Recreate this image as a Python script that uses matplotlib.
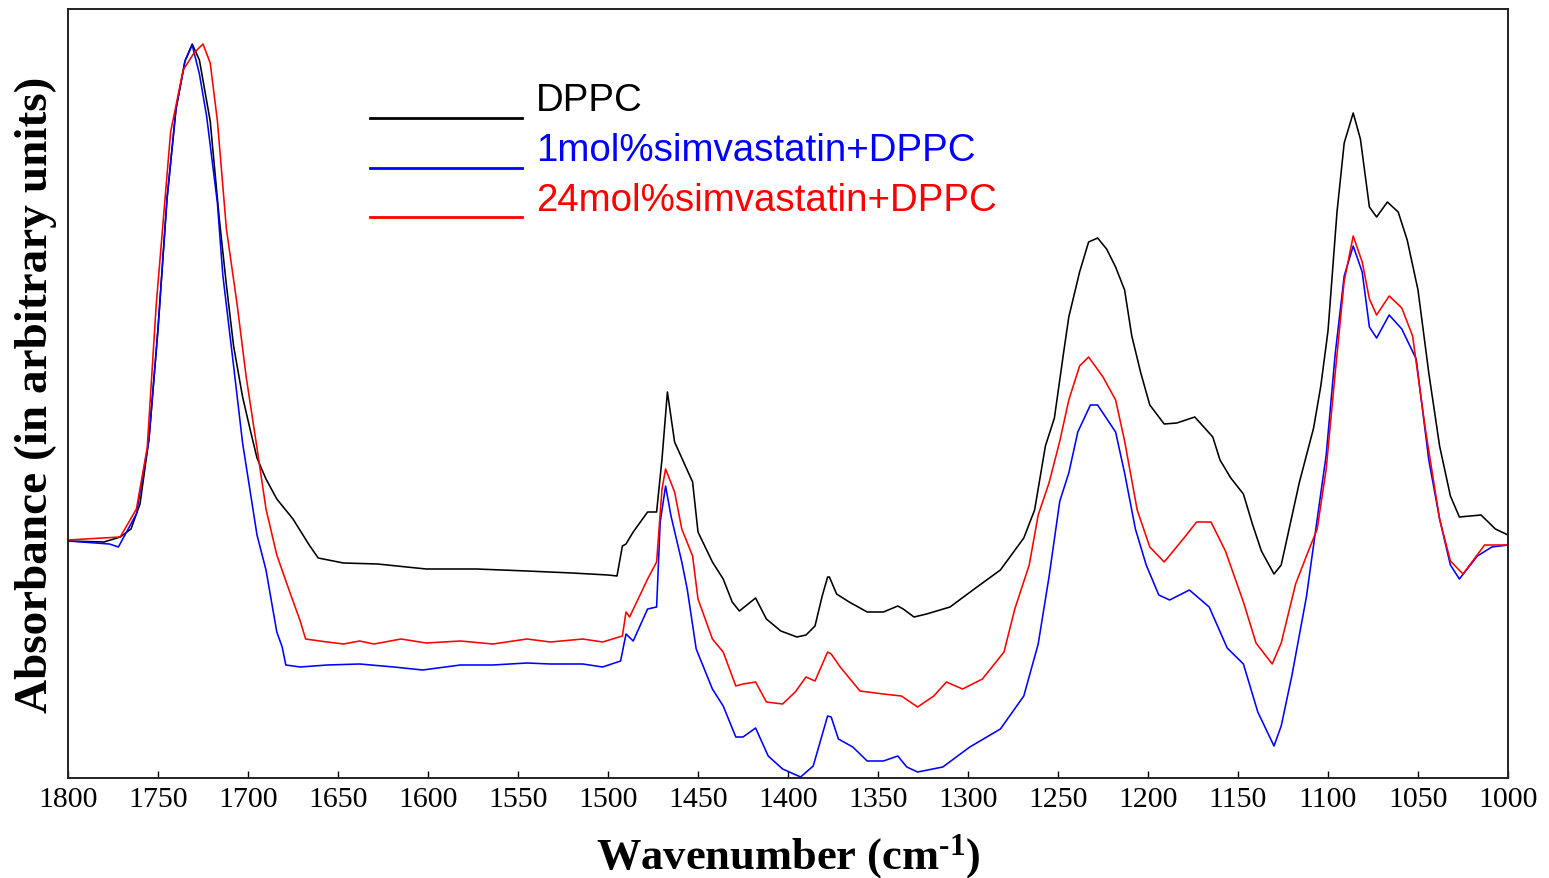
import numpy as np
import matplotlib
matplotlib.use("Agg")
import matplotlib.pyplot as plt
from matplotlib.legend_handler import HandlerLine2D

# FTIR spectra, absorbance in arbitrary units
dppc_wn = [1800, 1780, 1771, 1765, 1760, 1755, 1750, 1745, 1740, 1735, 1731, 1727,
           1721, 1716, 1712, 1708, 1703, 1699, 1695, 1690, 1684, 1675, 1666, 1661,
           1647, 1628, 1601, 1573, 1545, 1520, 1500, 1495,
           1492, 1490, 1486, 1478, 1473, 1470, 1467, 1463, 1457, 1453, 1450, 1442,
           1436, 1431, 1427, 1418, 1412, 1404, 1395, 1390, 1385, 1381, 1378, 1377,
           1373, 1366, 1356, 1347, 1339, 1336, 1330, 1323, 1310, 1295, 1282,
           1269, 1263, 1257, 1252, 1247, 1244, 1238, 1233, 1228, 1223, 1218, 1213,
           1209, 1204, 1199, 1191, 1184, 1174, 1164, 1160, 1154, 1147, 1142, 1137,
           1130, 1126, 1121, 1116, 1108, 1104, 1100, 1095, 1091, 1086, 1082, 1077,
           1073, 1067, 1061, 1056, 1050, 1044, 1038, 1032, 1027, 1015, 1007, 1000]
dppc_abs = [2.37, 2.36, 2.41, 2.49, 2.74, 3.39, 4.49, 5.79, 6.69, 7.17, 7.34, 7.18,
            6.57, 5.60, 4.93, 4.32, 3.81, 3.50, 3.20, 2.99, 2.79, 2.59, 2.33, 2.20,
            2.15, 2.14, 2.09, 2.09, 2.07, 2.05, 2.03, 2.02,
            2.32, 2.34, 2.46, 2.66, 2.66, 3.19, 3.86, 3.36, 3.12, 2.96, 2.46, 2.16,
            1.99, 1.76, 1.67, 1.80, 1.59, 1.47, 1.41, 1.43, 1.52, 1.82, 2.01, 2.01,
            1.84, 1.76, 1.66, 1.66, 1.72, 1.69, 1.61, 1.64, 1.71, 1.91, 2.08,
            2.40, 2.68, 3.32, 3.60, 4.24, 4.61, 5.06, 5.36, 5.40, 5.29, 5.11, 4.88,
            4.42, 4.05, 3.73, 3.54, 3.55, 3.61, 3.41, 3.18, 3.00, 2.84, 2.54, 2.27,
            2.04, 2.13, 2.54, 2.95, 3.50, 3.92, 4.47, 5.66, 6.35, 6.65, 6.39, 5.71,
            5.61, 5.76, 5.66, 5.38, 4.88, 4.05, 3.32, 2.82, 2.61, 2.63, 2.49, 2.43]

sim1_wn = [1800, 1777, 1772, 1769, 1762, 1755, 1750, 1745, 1740, 1735, 1731, 1727,
           1723, 1717, 1714, 1708, 1703, 1695, 1690, 1684, 1681, 1679, 1671, 1656,
           1638, 1619, 1603, 1582, 1564, 1545, 1532, 1514, 1503,
           1493, 1490, 1486, 1478, 1473, 1471, 1468, 1465, 1459, 1456, 1451, 1442,
           1436, 1429, 1425, 1418, 1411, 1403, 1393, 1386, 1378, 1376, 1372, 1364,
           1356, 1347, 1339, 1334, 1328, 1314, 1299, 1282,
           1269, 1261, 1255, 1249, 1244, 1239, 1232, 1228, 1218, 1213, 1207, 1201,
           1194, 1188, 1177, 1166, 1156, 1147, 1139, 1130, 1126, 1120, 1112, 1106,
           1101, 1096, 1091, 1086, 1081, 1077, 1073, 1066, 1059, 1051, 1044, 1038,
           1032, 1027, 1017, 1009, 1000]
sim1_abs = [2.37, 2.34, 2.31, 2.41, 2.64, 3.39, 4.49, 5.79, 6.69, 7.17, 7.33, 7.04,
            6.62, 5.75, 5.03, 4.12, 3.35, 2.43, 2.08, 1.46, 1.31, 1.13, 1.11, 1.13,
            1.14, 1.11, 1.08, 1.13, 1.13, 1.15, 1.14, 1.14, 1.11,
            1.17, 1.44, 1.37, 1.69, 1.71, 2.56, 2.92, 2.62, 2.16, 1.89, 1.29, 0.89,
            0.72, 0.41, 0.41, 0.50, 0.22, 0.09, 0.01, 0.12, 0.62, 0.61, 0.39, 0.31,
            0.17, 0.17, 0.22, 0.11, 0.06, 0.11, 0.31, 0.49,
            0.82, 1.34, 2.01, 2.77, 3.05, 3.46, 3.73, 3.73, 3.46, 3.05, 2.49, 2.13,
            1.83, 1.78, 1.88, 1.71, 1.30, 1.14, 0.66, 0.32, 0.52, 1.03, 1.81, 2.59,
            3.23, 4.24, 5.02, 5.32, 5.06, 4.51, 4.40, 4.63, 4.49, 4.19, 3.18, 2.59,
            2.13, 1.99, 2.22, 2.31, 2.33]

sim24_wn = [1800, 1771, 1762, 1756, 1751, 1743, 1736, 1730, 1725, 1721, 1717, 1712,
            1706, 1701, 1695, 1690, 1684, 1677, 1671, 1668,
            1656, 1647, 1638, 1630, 1615, 1601, 1582, 1564, 1545, 1532, 1514, 1503,
            1492, 1490, 1488, 1478, 1473, 1470, 1468, 1463, 1459, 1453, 1450,
            1442, 1436, 1429, 1425, 1418, 1412, 1403, 1396, 1390, 1385, 1378, 1376,
            1371, 1360, 1347, 1337, 1328, 1319, 1312, 1303, 1292, 1280,
            1274, 1266, 1261, 1255, 1249, 1244, 1238, 1233, 1225, 1218, 1213, 1206,
            1199, 1191, 1180, 1173, 1165, 1157, 1147, 1140, 1131, 1126, 1118, 1112,
            1106, 1101, 1096, 1091, 1086, 1081, 1077, 1073, 1066, 1059, 1053, 1046,
            1038, 1032, 1025, 1013, 1000]
sim24_abs = [2.38, 2.41, 2.69, 3.30, 4.73, 6.46, 7.08, 7.25, 7.34, 7.15, 6.57, 5.49,
             4.73, 4.01, 3.30, 2.69, 2.23, 1.87, 1.57, 1.39,
             1.36, 1.34, 1.37, 1.34, 1.39, 1.35, 1.37, 1.34, 1.39, 1.36, 1.39, 1.36,
             1.42, 1.66, 1.61, 1.99, 2.16, 2.89, 3.09, 2.86, 2.49, 2.22, 1.79,
             1.39, 1.26, 0.92, 0.94, 0.96, 0.76, 0.74, 0.86, 1.01, 0.97, 1.26, 1.24,
             1.11, 0.87, 0.84, 0.82, 0.71, 0.82, 0.96, 0.89, 0.99, 1.26,
             1.69, 2.13, 2.63, 2.95, 3.37, 3.78, 4.12, 4.21, 4.01, 3.78, 3.37, 2.68,
             2.31, 2.16, 2.40, 2.56, 2.56, 2.27, 1.76, 1.35, 1.14, 1.35, 1.94, 2.22,
             2.49, 3.09, 4.05, 4.97, 5.42, 5.16, 4.79, 4.63, 4.82, 4.70, 4.42, 3.50,
             2.59, 2.17, 2.04, 2.33, 2.33]

labels = ["DPPC", "1mol%simvastatin+DPPC", "24mol%simvastatin+DPPC"]
colors = ["black", "blue", "red"]
xticks = list(range(1800, 999, -50))

plt.rcParams["mathtext.default"] = "regular"


# legend lines sit under the text, like an underline
class UnderLine(HandlerLine2D):
    def create_artists(self, legend, orig_handle, xdescent, ydescent,
                       width, height, fontsize, trans):
        arts = super().create_artists(legend, orig_handle, xdescent, ydescent,
                                      width, height, fontsize, trans)
        for a in arts:
            a.set_ydata(np.asarray(a.get_ydata()) - 0.55 * fontsize)
            a.set_linewidth(2.0)
        return arts


fig = plt.figure(figsize=(15.49, 8.79), dpi=100)
ax = fig.add_axes([68 / 1549, 100 / 879, 1440 / 1549, 769 / 879])

series = [(dppc_wn, dppc_abs), (sim1_wn, sim1_abs), (sim24_wn, sim24_abs)]
for (wn, ab), lab, c in zip(series, labels, colors):
    ax.plot(wn, ab, color=c, lw=1.15, label=lab)

ax.set_xlim(1800, 1000)
ax.set_ylim(0, 7.69)
ax.set_xticks(xticks)
ax.set_yticks([])
ax.tick_params(axis="x", direction="in", length=5, width=1, pad=6,
               labelsize=21.5)
for t in ax.get_xticklabels():
    t.set_family("Liberation Serif")
for s in ax.spines.values():
    s.set_linewidth(1.4)
    s.set_color("#222222")

ax.set_xlabel("Wavenumber (cm$^{\u20101}$)", family="Liberation Serif",
              fontweight="bold", fontsize=32, labelpad=14)
ax.set_ylabel("Absorbance (in arbitrary units)", family="Liberation Serif",
              fontweight="bold", fontsize=34, labelpad=8)

handles = ax.get_lines()
ax.legend(handles=handles, labels=labels, loc="upper left",
          bbox_to_anchor=((370 - 68) / 1440, (779 - 83) / 769),
          frameon=False, borderpad=0, borderaxespad=0,
          prop={"family": "Liberation Sans", "size": 27.7},
          handlelength=3.95, handletextpad=0.36, labelspacing=0.36,
          labelcolor="linecolor",
          handler_map={h: UnderLine() for h in handles})

fig.savefig("out.png", dpi=100)
